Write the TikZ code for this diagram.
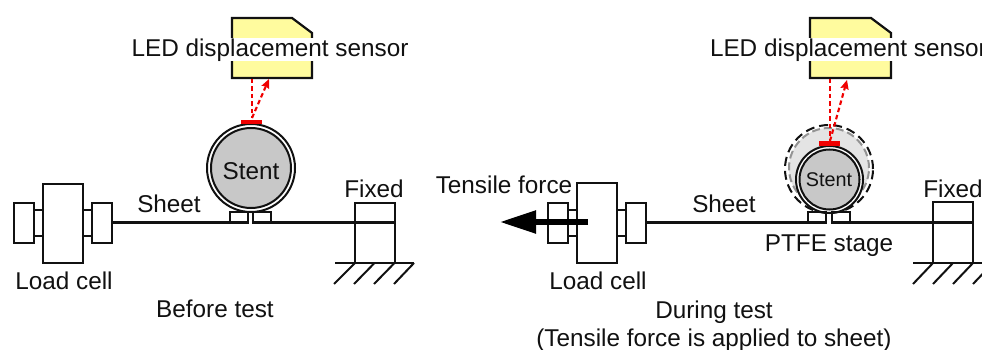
\documentclass[tikz,border=0pt]{standalone}
\usepackage{fontspec}
\setmainfont{Liberation Sans}
\usetikzlibrary{arrows.meta}
\definecolor{ink}{HTML}{111111}
\definecolor{sensorfill}{HTML}{FFFB9E}
\definecolor{stentgray}{HTML}{C8C8C8}
\definecolor{swing}{HTML}{E4E4E4}
\definecolor{beam}{HTML}{F00000}
\tikzset{
  x=1pt,y=-1pt,
  line join=miter,
  part/.style={draw=ink,line width=2.2pt,inner sep=0pt,outer sep=0pt},
  wire/.style={draw=ink,line width=2.2pt},
  lbl/.style={inner sep=0pt,outer sep=0pt,anchor=base,text=ink,font=\fontsize{24.3}{28}\selectfont},
  smalllbl/.style={lbl,font=\fontsize{19.8}{24}\selectfont},
  bandlbl/.style={lbl,fill=white,text height=19pt,text depth=4pt},
  sensorshape/.style={draw=ink,fill=sensorfill,line width=2.2pt},
  ray/.style={draw=beam,line width=2.1pt,dash pattern=on 4.5pt off 3pt},
  rayback/.style={ray,-{Stealth[length=9pt,width=8pt,inset=1pt]}},
  mirror/.style={draw=none,fill=beam,inner sep=0pt,outer sep=0pt},
  ring/.style={circle,draw=ink,line width=2pt,fill=white,inner sep=0pt,outer sep=0pt},
  core/.style={circle,draw=ink,line width=2pt,fill=stentgray,inner sep=0pt,outer sep=0pt},
  pull/.style={line width=5.5pt,draw=black,-{Triangle[length=36pt,width=22pt]}},
}
\newcommand{\bx}[5]{\node[part,minimum width={(#4-#2)*1pt},minimum height={(#5-#3)*1pt}] (#1) at ({(#2+#4)/2},{(#3+#5)/2}) {};}
\newcommand{\barb}[5]{\node[mirror,minimum width={(#4-#2)*1pt},minimum height={(#5-#3)*1pt}] (#1) at ({(#2+#4)/2},{(#3+#5)/2}) {};}
\begin{document}
\begin{tikzpicture}
\clip (0,0) rectangle (982,350);
\fill[white] (0,0) rectangle (982,350);

%% ---- left: before test
\draw[sensorshape] (232,18) -- (292,18) -- (312,33) -- (312,78) -- (232,78) -- cycle;
\node[bandlbl] (ledA) at (270,57) {LED displacement sensor};
\coordinate (sensAout) at (252,79);
\coordinate (sensAin) at (269,79);
\coordinate (barAtop) at (252,118);
\node[ring,minimum size=88pt] (ringA) at (251,168) {};
\node[core,minimum size=80pt] (stentA) at (251,168) {};
\node[lbl] (stentAt) at (251,179) {Stent};
\barb{mirrorA}{241}{120}{262}{124}
\draw[ray] (sensAout) -- (barAtop);
\draw[rayback] (barAtop) -- (sensAin);

\bx{cellA}{43}{184}{83}{263}
\bx{gripAL}{14}{203}{34}{243}
\bx{neckAL}{34}{210}{43}{236}
\bx{gripAR}{92}{203}{112}{243}
\bx{neckAR}{83}{210}{92}{236}
\bx{padAL}{230}{212}{248}{222.5}
\bx{padAR}{253}{212}{271}{222.5}
\bx{fixA}{355}{203}{395}{263}
\coordinate (gapAL) at (248,222.5);
\coordinate (gapAR) at (252.5,222.5);
\draw[wire] (gripAR.east |- gapAL) -- (gapAL);
\draw[wire] (gapAR) -- (fixA.east |- gapAR);
\draw[wire] (335,263) -- (414,263);
\draw[wire,line width=2pt] (355,263) -- (334,284) (374.5,263) -- (354,284) (394.5,263) -- (374,284) (414,263) -- (394,284);
\node[lbl] (sheetA) at (169,212) {Sheet};
\node[lbl] (fixedA) at (374,197) {Fixed};
\node[lbl] (loadA) at (64,289) {Load cell};
\node[lbl] (beforeA) at (215,317) {Before test};

%% ---- right: during test
\draw[sensorshape] (810,18) -- (871,18) -- (891,33) -- (891,78) -- (810,78) -- cycle;
\node[bandlbl,anchor=base west] (ledB) at (710,57) {LED displacement sensor};
\node[circle,fill=swing,draw=gray!85,line width=2pt,dash pattern=on 8pt off 4pt,minimum size=80pt,inner sep=0pt] (swingB) at (829,168) {};
\node[circle,draw=ink,line width=2pt,dash pattern=on 9pt off 5pt,minimum size=88pt,inner sep=0pt] (dashB) at (829,169) {};
\node[ring,minimum size=67pt] (ringB) at (829.5,179.5) {};
\node[core,minimum size=60pt] (stentB) at (829.5,179.5) {};
\node[smalllbl] (stentBt) at (829,186) {Stent};
\barb{mirrorB}{819}{141}{840}{146}
\coordinate (sensBout) at (830,79);
\coordinate (sensBin) at (847,80);
\coordinate (barBtop) at (830,141);
\draw[ray] (sensBout) -- (barBtop);
\draw[rayback] (barBtop) -- (sensBin);

\bx{cellB}{577}{183}{617}{263}
\bx{gripBL}{548}{203}{568}{243}
\bx{neckBL}{568}{210}{577}{236}
\bx{gripBR}{626}{203}{646}{243}
\bx{neckBR}{617}{210}{626}{236}
\bx{padBL}{808}{212}{826}{222.5}
\bx{padBR}{832}{212}{850}{222.5}
\bx{fixB}{933}{202}{973}{263}
\coordinate (gapBL) at (826.5,222.5);
\coordinate (gapBR) at (831.5,222.5);
\draw[wire] (gripBR.east |- gapBL) -- (gapBL);
\draw[wire] (gapBR) -- (fixB.east |- gapBR);
\draw[wire] (913,263) -- (990,263);
\draw[wire,line width=2pt] (933,263) -- (913,284) (953,263) -- (933,284) (973,263) -- (953,284) (993,263) -- (973,284);
\coordinate (pullStart) at (588,222);
\coordinate (pullEnd) at (500,222);
\draw[pull] (pullStart) -- (pullEnd);
\node[lbl] (tensile) at (504,193) {Tensile force};
\node[lbl] (sheetB) at (724,212) {Sheet};
\node[lbl] (fixedB) at (953,197) {Fixed};
\node[lbl] (ptfe) at (829,251) {PTFE stage};
\node[lbl] (loadB) at (598,289) {Load cell};
\node[lbl] (during) at (714,318) {During test};
\node[lbl] (duringb) at (714,346) {(Tensile force is applied to sheet)};
\end{tikzpicture}
\end{document}
